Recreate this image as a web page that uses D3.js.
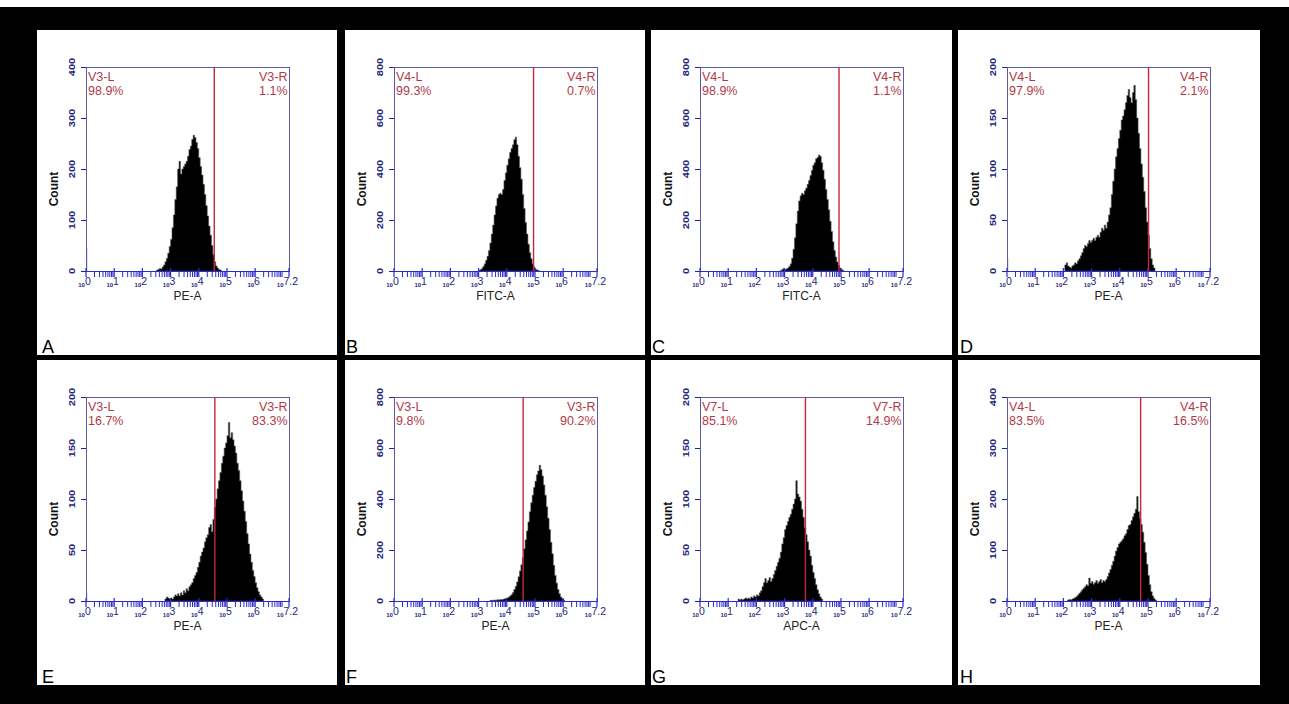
<!DOCTYPE html>
<html>
<head>
<meta charset="utf-8">
<script src="https://cdn.jsdelivr.net/npm/d3@7"></script>
<style>
  html, body { margin: 0; padding: 0; background: #000; }
  svg { display: block; }
  text { font-family: "Liberation Sans", Arial, sans-serif; }
</style>
</head>
<body>
<svg id="fig" width="1289" height="704"></svg>
<script>
// ---- Panel metadata -------------------------------------------------------
const panelLetters = ["A", "B", "C", "D", "E", "F", "G", "H"];
const channels     = ["PE-A", "FITC-A", "FITC-A", "PE-A", "PE-A", "PE-A", "APC-A", "PE-A"];
const gateNames    = ["V3", "V4", "V4", "V4", "V3", "V3", "V7", "V4"];
const leftPct      = [98.9, 99.3, 98.9, 97.9, 16.7, 9.8, 85.1, 83.5];
const rightPct     = [1.1, 0.7, 1.1, 2.1, 83.3, 90.2, 14.9, 16.5];
const countMax     = [400, 800, 800, 200, 200, 800, 200, 400];
// gate divider position, log10 of the channel value
const gateLog      = [4.55, 4.95, 4.93, 5.02, 4.57, 4.58, 3.74, 4.74];
// events piled up in the very first channel (value 10^0)
const firstBin     = [45, 0, 0, 12, 8, 0, 0, 5];

// ---- Histogram counts: bins of 0.05 decade starting at histStart ----------
const binWidth  = 0.05;
const histStart = [2.50, 3.00, 2.85, 2.05, 2.80, 3.40, 1.35, 2.15];

const histA = [2, 3, 5, 4, 8, 12, 18, 25, 35, 48, 62, 85, 110, 140, 165, 200,
  215, 190, 200, 205, 210, 215, 225, 238, 245, 258, 266, 262, 252, 240, 222,
  205, 188, 170, 150, 128, 108, 88, 70, 50, 32, 18, 10, 6, 3, 2];

const histB = [3, 5, 10, 18, 28, 42, 58, 80, 110, 145, 180, 220, 255, 285, 300,
  305, 300, 320, 355, 385, 415, 440, 465, 480, 495, 515, 525, 495, 450, 405,
  360, 300, 245, 190, 145, 105, 72, 48, 28, 16, 8, 4, 2];

const histC = [2, 6, 10, 6, 8, 12, 18, 28, 50, 85, 130, 185, 235, 275, 295, 305,
  300, 315, 325, 340, 355, 375, 395, 415, 425, 440, 445, 455, 450, 425, 395,
  360, 320, 280, 240, 195, 155, 115, 80, 55, 35, 22, 12, 6, 3];

const histD = [6, 8, 5, 4, 3, 5, 6, 8, 7, 10, 12, 15, 18, 22, 25, 24, 27, 30,
  28, 30, 32, 30, 33, 35, 33, 38, 42, 40, 45, 42, 48, 55, 62, 75, 88, 100, 112,
  120, 130, 138, 148, 152, 158, 165, 172, 178, 170, 165, 175, 182, 168, 150,
  135, 120, 105, 92, 78, 62, 48, 35, 22, 12, 6, 3];

const histE = [2, 4, 3, 2, 3, 2, 4, 6, 5, 7, 5, 8, 6, 10, 8, 12, 10, 14, 16, 18,
  22, 25, 28, 33, 38, 44, 48, 52, 58, 62, 65, 72, 75, 68, 80, 92, 100, 110,
  118, 126, 135, 142, 150, 155, 162, 175, 160, 165, 158, 152, 145, 135, 128,
  118, 108, 98, 88, 78, 66, 56, 46, 38, 30, 24, 18, 13, 9, 6, 4, 2];

const histF = [2, 3, 2, 4, 3, 5, 4, 6, 5, 7, 8, 10, 12, 15, 20, 25, 33, 45, 58,
  75, 95, 118, 142, 170, 205, 240, 275, 310, 350, 385, 415, 445, 470, 495,
  510, 532, 515, 490, 455, 415, 370, 325, 280, 230, 185, 140, 100, 70, 45,
  28, 16, 9, 4];

const histG = [2, 1, 2, 1, 2, 3, 2, 3, 2, 4, 3, 5, 4, 6, 5, 8, 10, 14, 18, 22,
  18, 20, 23, 19, 22, 26, 30, 34, 38, 42, 48, 56, 62, 70, 74, 78, 82, 85, 90,
  95, 100, 118, 105, 102, 98, 90, 82, 72, 65, 58, 50, 44, 35, 28, 22, 16, 11,
  7, 4, 2];

const histH = [2, 3, 2, 4, 5, 7, 9, 12, 15, 18, 22, 25, 28, 32, 30, 45, 35, 38,
  33, 36, 40, 35, 38, 42, 36, 40, 38, 42, 48, 55, 62, 70, 78, 88, 98, 105,
  112, 115, 118, 122, 128, 132, 140, 148, 150, 158, 165, 172, 180, 205, 175,
  162, 150, 135, 115, 95, 72, 50, 32, 18, 10, 5, 2];

const histograms = [histA, histB, histC, histD, histE, histF, histG, histH];

// x axis decades labelled on every plot (last one is the range end)
const xTickExponents = [0, 1, 2, 3, 4, 5, 6, 7.2];
const xMaxExponent = 7.2;

// ---- Layout -----------------------------------------------------------------
const W = 1289, H = 704;
const colX = [37, 345, 651, 958];
const colW = [300, 300, 301, 302];
const rowY = [30, 360];
const panelH = 325;
const plotOffX = 49, plotOffY = 37, plotW = 203, plotH = 204;
const letterOff = [5, 1, 1, 2];

const frameColor = "#5a5aa6";
const tickBlue   = "#2a2ad0";
const labelNavy  = "#26267e";
const gateRed    = "#c4283a";
const gateText   = "#b23a48";

const crisp = v => Math.round(v) + 0.5;

const svg = d3.select("#fig");
svg.append("rect").attr("width", W).attr("height", H).attr("fill", "#000");
svg.append("rect").attr("width", W).attr("height", 7).attr("fill", "#fff");

panelLetters.forEach((letter, i) => {
  const col = i % 4, row = Math.floor(i / 4);
  const px = colX[col], py = rowY[row];
  const g = svg.append("g");

  g.append("rect").attr("x", px).attr("y", py)
    .attr("width", colW[col]).attr("height", panelH).attr("fill", "#fff");

  const left = px + plotOffX, top = py + plotOffY;
  const right = left + plotW, bottom = top + plotH;

  const x = d3.scaleLog().domain([1, Math.pow(10, xMaxExponent)]).range([left, right]);
  const y = d3.scaleLinear().domain([0, countMax[i]]).range([bottom, top]);

  // histogram as a stepped filled area
  const counts = histograms[i];
  const pts = counts.map((c, j) => ({ lo: histStart[i] + j * binWidth, c }));
  pts.push({ lo: histStart[i] + counts.length * binWidth, c: counts[counts.length - 1] });
  const area = d3.area()
    .curve(d3.curveStepAfter)
    .x(d => x(Math.pow(10, d.lo)))
    .y0(y(0))
    .y1(d => y(d.c));
  g.append("path").datum(pts).attr("d", area).attr("fill", "#000")
    .attr("stroke", "#555").attr("stroke-width", 0.6);

  // first-channel pile-up
  if (firstBin[i] > 0) {
    g.append("rect")
      .attr("x", x(1)).attr("width", x(Math.pow(10, 0.04)) - x(1))
      .attr("y", y(firstBin[i])).attr("height", y(0) - y(firstBin[i]))
      .attr("fill", "#1c1c9a");
  }

  // plot frame
  g.append("rect").attr("x", crisp(left)).attr("y", crisp(top))
    .attr("width", plotW).attr("height", plotH)
    .attr("fill", "none").attr("stroke", frameColor).attr("stroke-width", 1);

  // y axis ticks and rotated labels
  const yTicks = y.ticks(4);
  g.selectAll(null).data(yTicks).join("line")
    .attr("x1", left - 5).attr("x2", left)
    .attr("y1", d => crisp(y(d))).attr("y2", d => crisp(y(d)))
    .attr("stroke", labelNavy).attr("stroke-width", 1);
  g.selectAll(null).data(yTicks).join("text")
    .attr("transform", d => `translate(${left - 14},${y(d)}) rotate(-90) scale(1.05,0.85)`)
    .attr("text-anchor", "middle").attr("dominant-baseline", "central")
    .attr("font-size", 10.5).attr("font-weight", "bold").attr("fill", labelNavy)
    .text(d => d);

  g.append("text")
    .attr("transform", `translate(${left - 32},${top + 122}) rotate(-90)`)
    .attr("text-anchor", "middle").attr("dominant-baseline", "central")
    .attr("font-size", 12).attr("font-weight", "bold").attr("fill", "#111")
    .text("Count");

  // x axis: blue baseline, decade ticks, log minor ticks
  g.append("line").attr("x1", left).attr("x2", right)
    .attr("y1", crisp(bottom)).attr("y2", crisp(bottom))
    .attr("stroke", tickBlue).attr("stroke-width", 1.2);
  const minor = [];
  for (let d = 0; d < Math.ceil(xMaxExponent); d++) {
    for (let m = 2; m <= 9; m++) {
      const v = m * Math.pow(10, d);
      if (Math.log10(v) < xMaxExponent) minor.push(v);
    }
  }
  g.selectAll(null).data(minor).join("line")
    .attr("x1", d => x(d)).attr("x2", d => x(d))
    .attr("y1", bottom).attr("y2", bottom + 6)
    .attr("stroke", tickBlue).attr("stroke-width", 1);
  g.selectAll(null).data(xTickExponents).join("line")
    .attr("x1", d => x(Math.pow(10, d))).attr("x2", d => x(Math.pow(10, d)))
    .attr("y1", bottom - 3).attr("y2", bottom + 6)
    .attr("stroke", tickBlue).attr("stroke-width", 1.2);

  const xl = g.selectAll(null).data(xTickExponents).join("text")
    .attr("x", d => x(Math.pow(10, d)) - 1.5).attr("y", bottom + 16)
    .attr("text-anchor", "middle").attr("fill", labelNavy);
  xl.append("tspan").attr("font-size", 6).attr("font-weight", "bold").text("10");
  xl.append("tspan").attr("font-size", 10.5).attr("dy", -2).text(d => d);

  g.append("text")
    .attr("x", (left + right) / 2).attr("y", bottom + 29)
    .attr("text-anchor", "middle").attr("font-size", 12).attr("fill", "#222")
    .text(channels[i]);

  // gate divider and region labels
  const gx = x(Math.pow(10, gateLog[i]));
  g.append("line")
    .attr("x1", gx).attr("x2", gx)
    .attr("y1", top).attr("y2", bottom)
    .attr("stroke", gateRed).attr("stroke-width", 1.4);
  const gl = g.append("text").attr("font-size", 12.5).attr("fill", gateText);
  gl.append("tspan").attr("x", left + 2).attr("y", top + 14).text(`${gateNames[i]}-L`);
  gl.append("tspan").attr("x", left + 2).attr("y", top + 28).text(`${leftPct[i].toFixed(1)}%`);
  const gr = g.append("text").attr("font-size", 12.5).attr("fill", gateText).attr("text-anchor", "end");
  gr.append("tspan").attr("x", right - 1.5).attr("y", top + 14).text(`${gateNames[i]}-R`);
  gr.append("tspan").attr("x", right - 1.5).attr("y", top + 28).text(`${rightPct[i].toFixed(1)}%`);

  // panel letter
  g.append("text")
    .attr("x", px + letterOff[col]).attr("y", py + panelH - 2)
    .attr("font-size", 18).attr("fill", "#000")
    .text(letter);
});
</script>
</body>
</html>
